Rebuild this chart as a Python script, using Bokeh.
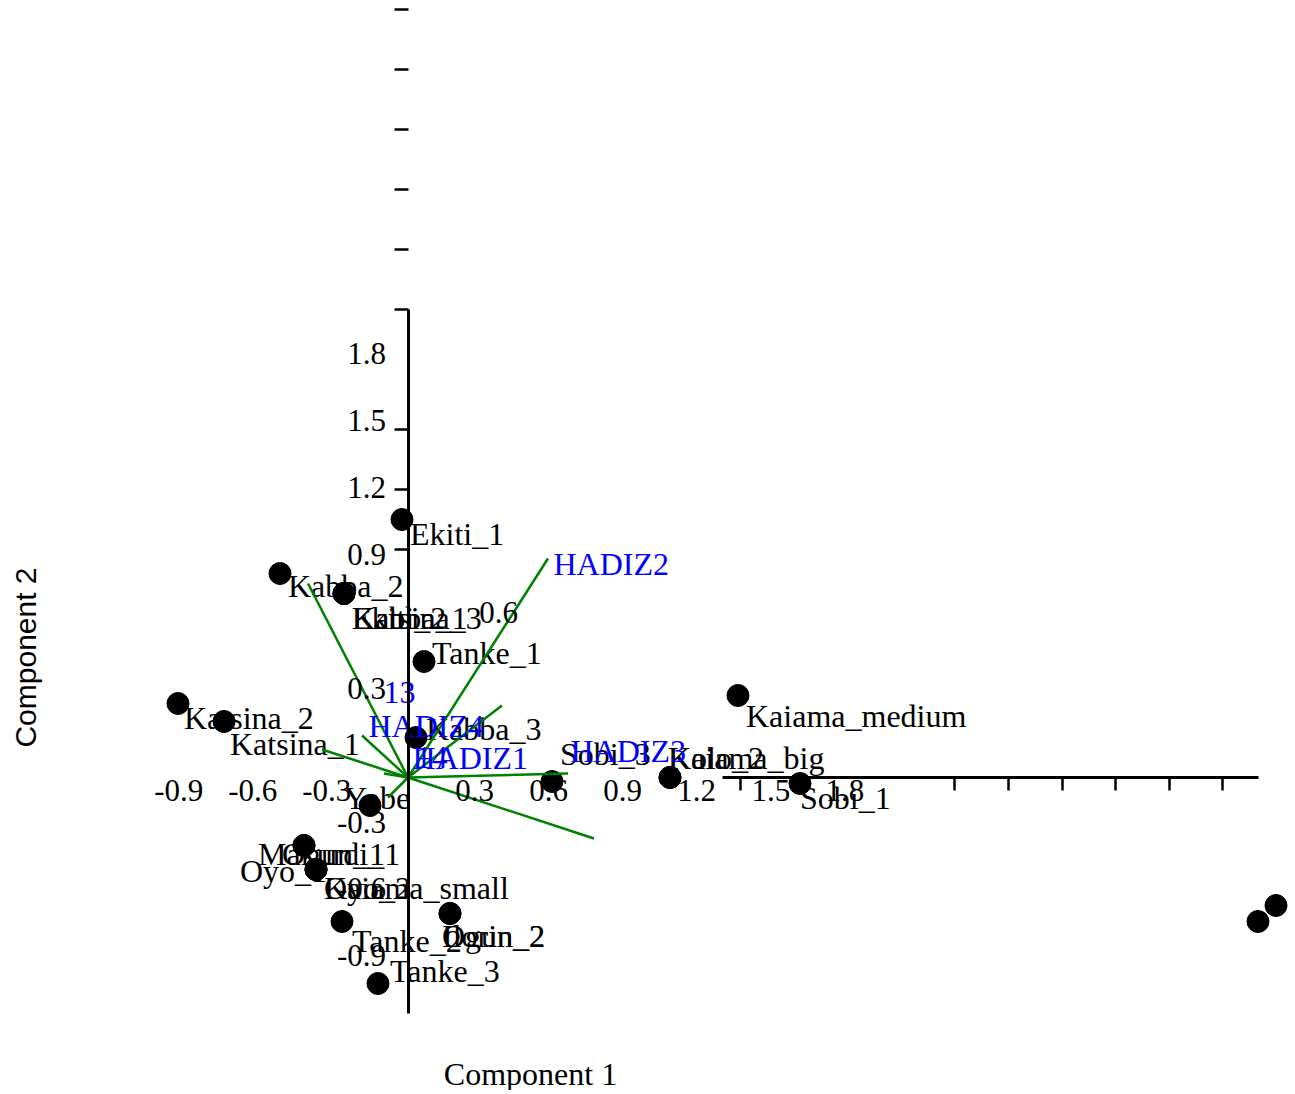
import math
from bokeh.plotting import figure
from bokeh.models import Range1d, LinearAxis, FixedTicker, Label
from bokeh.core.properties import value
from bokeh.embed import file_html
from bokeh.resources import INLINE

# ---------------- data ----------------
site_names = ["Ekiti_1", "Kabba_2", "Ekiti_2", "Kabba_1", "Katsina_3", "Tanke_1", "Kaiama_medium",
              "Katsina_2", "Katsina_1", "Kabba_3", "Sobi_3", "Kolo_2", "Kaiama_big", "Sobi_1", "Yobe",
              "Makurdi_1", "Ogun_1", "Oyo_1", "Kaiama_small", "Oyo_2", "Tanke_2", "Ogun_2", "Ilorin_2",
              "Tanke_3", "", ""]
pc1 = [-0.03, -0.64, -0.32, -0.32, -0.32, 0.08, 1.65, -1.15, -0.92, 0.04, 0.72, 1.31, 1.31, 1.96, -0.19,
       -0.52, -0.52, -0.46, -0.46, -0.46, -0.33, 0.21, 0.21, -0.15, 4.25, 4.34]
pc2 = [1.29, 1.02, 0.92, 0.92, 0.92, 0.58, 0.41, 0.37, 0.28, 0.20, -0.02, 0.00, 0.00, -0.03, -0.14,
       -0.34, -0.34, -0.46, -0.46, -0.46, -0.72, -0.68, -0.68, -1.03, -0.72, -0.64]
# positions where the site labels were written (same units)
label_pc1 = [0.01, -0.60, -0.28, -0.28, -0.28, 0.12, 1.69, -1.12, -0.89, 0.09, 0.76, 1.30, 1.30, 1.96, -0.32,
             -0.75, -0.63, -0.84, -0.42, -0.42, -0.28, 0.17, 0.17, -0.09, 0.0, 0.0]
label_pc2 = [1.22, 0.96, 0.80, 0.80, 0.80, 0.625, 0.31, 0.30, 0.17, 0.245, 0.12, 0.10, 0.10, -0.10, -0.10,
             -0.38, -0.38, -0.465, -0.55, -0.55, -0.815, -0.79, -0.79, -0.965, 0.0, 0.0]

# loading vectors
load_pc1 = [0.70, -0.50, -0.23, -0.43, -0.12, -0.10, 0.47, 0.80, 0.93]
load_pc2 = [1.095, 0.97, 0.21, 0.14, 0.02, -0.10, 0.36, 0.02, -0.305]
var_names = ["HADIZ2", "13", "HADIZ4", "14", "HADIZ1", "HADIZ3"]
var_label_pc1 = [0.7275, -0.1225, -0.1975, 0.0375, 0.0225, 0.8125]
var_label_pc2 = [1.07, 0.425, 0.26, 0.10, 0.10, 0.135]

# axes
x_tick_labels = [-0.9, -0.6, -0.3, 0.3, 0.6, 0.9, 1.2, 1.5, 1.8]
y_tick_labels = [1.8, 1.5, 1.2, 0.9, 0.3, -0.3, -0.6, -0.9]
x_tick_marks = [0.0, 1.2, 1.5, 1.8, 2.1, 2.4, 2.7]
y_tick_marks = [0.9, 1.2, 1.5, 2.1, 2.4, 2.7, 3.0, 3.3, 3.6]
stray_tick_text = ["0.6"]
stray_tick_pc1 = [0.4525]
stray_tick_pc2 = [0.825]

# ---------------- layout ----------------
W, H = 1290, 1090
OFF = 0  # page pixel where the canvas begins
SERIF = value("Liberation Serif")
FS = "32px"
TFS = "31px"


def xr(zero_px, ppu):
    s = (OFF - zero_px) / ppu
    return Range1d(start=s, end=s + W / ppu)


def yr(zero_px, ppu):
    e = (zero_px - OFF) / ppu
    return Range1d(start=e - H / ppu, end=e)


def fmt(ticks):
    return {t: ("%.1f" % t) for t in ticks}


p = figure(width=W, height=H, x_range=xr(407.5, 200), y_range=yr(777, 200),
           x_axis_type=None, y_axis_type=None, toolbar_location=None,
           output_backend="svg", min_border=0, title=None)
p.outline_line_color = None
p.xgrid.visible = False
p.ygrid.visible = False
p.background_fill_color = "white"
p.border_fill_color = "white"

p.extra_x_ranges = {"xlab": xr(400.2, 246.7), "xtick": xr(740, 53.6 / 0.3)}
p.extra_y_ranges = {"ylab": yr(754.65, 222.9), "ytick": yr(729, 200)}

blank = lambda ticks: {t: "" for t in ticks}

# y axis line
ax_yline = LinearAxis(y_range_name="ytick", fixed_location=0, bounds=(-1.42, 2.1),
                      ticker=FixedTicker(ticks=[]), axis_line_width=3, axis_line_color="black",
                      major_tick_line_color=None, minor_tick_line_color=None)
# y tick marks
ax_ytick = LinearAxis(y_range_name="ytick", fixed_location=0, ticker=FixedTicker(ticks=y_tick_marks),
                      axis_line_color=None, major_tick_out=14, major_tick_in=0, major_tick_line_width=2.5,
                      minor_tick_line_color=None, major_label_overrides=blank(y_tick_marks))
# y tick labels
ax_ylab = LinearAxis(y_range_name="ylab", fixed_location=0, ticker=FixedTicker(ticks=y_tick_labels),
                     axis_line_color=None, major_tick_line_color=None, minor_tick_line_color=None,
                     major_tick_out=0, major_tick_in=0, major_label_standoff=22,
                     major_label_overrides=fmt(y_tick_labels),
                     major_label_text_font="Liberation Serif", major_label_text_font_size=TFS,
                     major_label_text_color="black")
for ax in (ax_yline, ax_ytick, ax_ylab):
    p.add_layout(ax, "left")

# x axis line + ticks
ax_xline = LinearAxis(x_range_name="xtick", fixed_location=0, bounds=(-0.1, 2.9),
                      ticker=FixedTicker(ticks=x_tick_marks), axis_line_width=3, axis_line_color="black",
                      major_tick_out=13, major_tick_in=0, major_tick_line_width=2.5,
                      minor_tick_line_color=None, major_label_overrides=blank(x_tick_marks))
# x tick labels
ax_xlab = LinearAxis(x_range_name="xlab", fixed_location=0, ticker=FixedTicker(ticks=x_tick_labels),
                     axis_line_color=None, major_tick_line_color=None, minor_tick_line_color=None,
                     major_tick_out=0, major_tick_in=0, major_label_standoff=2,
                     major_label_overrides=fmt(x_tick_labels),
                     major_label_text_font="Liberation Serif", major_label_text_font_size=TFS,
                     major_label_text_color="black")
for ax in (ax_xline, ax_xlab):
    p.add_layout(ax, "below")

# scores
p.scatter(pc1, pc2, size=22, color="black")
p.text(label_pc1, label_pc2, text=site_names, text_font=SERIF, text_font_size=FS,
       text_align="left", text_baseline="middle", text_color="black")

# loadings
p.segment(x0=[0] * len(load_pc1), y0=[0] * len(load_pc2), x1=load_pc1, y1=load_pc2,
          line_color="green", line_width=2.5)
p.text(var_label_pc1, var_label_pc2, text=var_names, text_font=SERIF, text_font_size=FS,
       text_align="left", text_baseline="middle", text_color="blue")

# displaced tick label
p.text(stray_tick_pc1, stray_tick_pc2, text=stray_tick_text, text_font=SERIF, text_font_size=TFS,
       text_align="center", text_baseline="middle", text_color="black")

# axis titles
p.add_layout(Label(x=0.6125, y=-1.48, text="Component 1", text_font="Liberation Serif",
                   text_font_size=FS, text_align="center", text_baseline="middle",
                   text_color="black"))
p.add_layout(Label(x=-1.9125, y=0.6, text="Component 2", text_font="Liberation Sans",
                   text_font_size="30px", text_align="center", text_baseline="middle",
                   angle=math.pi / 2, text_color="black"))

open("out.html", "w").write(file_html(p, INLINE))
